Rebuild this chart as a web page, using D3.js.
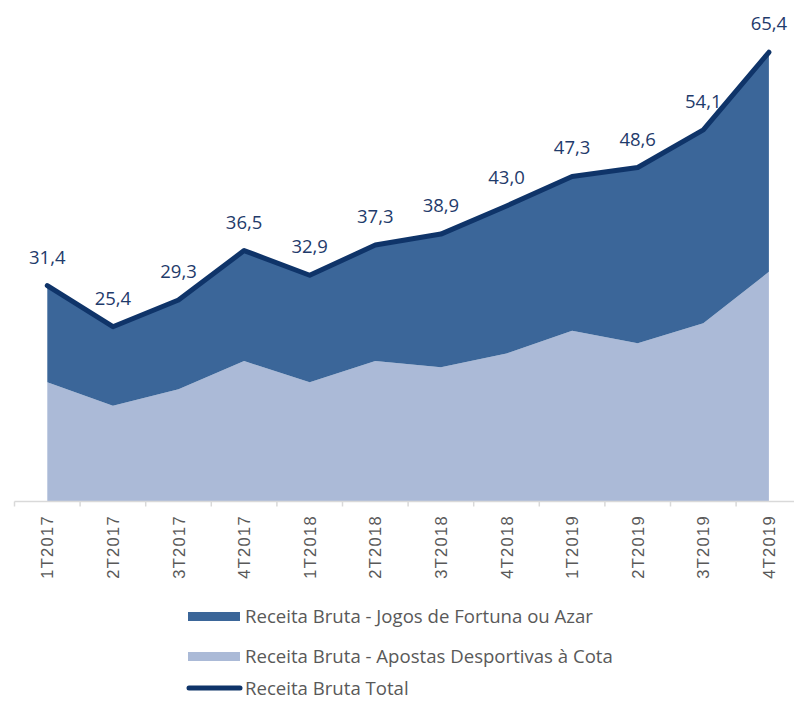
<!DOCTYPE html>
<html><head><meta charset="utf-8">
<script src="https://cdn.jsdelivr.net/npm/d3@7"></script>
<style>html,body{margin:0;padding:0;background:#fff;}svg{display:block;}</style>
</head><body>
<svg id="chart" width="794" height="701"></svg>
<script>
const categories = ["1T2017","2T2017","3T2017","4T2017","1T2018","2T2018","3T2018","4T2018","1T2019","2T2019","3T2019","4T2019"];
const apostas = [17.3, 13.9, 16.3, 20.4, 17.3, 20.4, 19.5, 21.5, 24.8, 23.0, 25.9, 33.4];
const jogos   = [14.1, 11.5, 13.0, 16.1, 15.6, 16.9, 19.4, 21.5, 22.5, 25.6, 28.2, 32.0];
const total   = [31.4, 25.4, 29.3, 36.5, 32.9, 37.3, 38.9, 43.0, 47.3, 48.6, 54.1, 65.4];
const seriesNames = ["Receita Bruta - Jogos de Fortuna ou Azar","Receita Bruta - Apostas Desportivas à Cota","Receita Bruta Total"];

const colors = {jogos:"#3b6699", apostas:"#abbad7", total:"#0f3469", text:"#1f3b6b", axisText:"#595959"};

const svg = d3.select("#chart");
const x = d3.scaleBand().domain(categories).range([14.5, 801.7]).padding(0);
const cx = c => x(c) + x.bandwidth()/2;
const y = d3.scaleLinear().domain([0, 70]).range([501, 20.7]);

const rows = categories.map((c,i)=>({cat:c, apostas:apostas[i], jogos:jogos[i], total:total[i]}));
const stack = d3.stack().keys(["apostas","jogos"]);
const stacked = stack(rows);

const area = d3.area().x(d=>cx(d.data.cat)).y0(d=>y(d[0])).y1(d=>y(d[1]));
svg.append("g").selectAll("path").data(stacked).join("path")
  .attr("d", area)
  .attr("fill", d=> d.key==="apostas" ? colors.apostas : colors.jogos);

// x axis
const axisY = 501.5;
svg.append("line").attr("x1",14.5).attr("x2",794).attr("y1",axisY).attr("y2",axisY)
  .attr("stroke","#d9d9d9").attr("stroke-width",1.5);
svg.append("g").selectAll("line").data(categories).join("line")
  .attr("x1",d=>x(d)).attr("x2",d=>x(d)).attr("y1",axisY).attr("y2",axisY+5)
  .attr("stroke","#d9d9d9").attr("stroke-width",1.5);
svg.append("g").selectAll("text").data(categories).join("text")
  .attr("transform",d=>`translate(${cx(d)+6},${515}) rotate(-90)`)
  .attr("text-anchor","end")
  .attr("font-family","'Liberation Sans', Arial, sans-serif")
  .attr("font-size",16.5).attr("letter-spacing","1.3px").attr("fill",colors.axisText)
  .text(d=>d);

// total line
const line = d3.line().x((d,i)=>cx(categories[i])).y(d=>y(d));
svg.append("path").datum(total).attr("d",line)
  .attr("fill","none").attr("stroke",colors.total).attr("stroke-width",5)
  .attr("stroke-linejoin","round").attr("stroke-linecap","round");

// labels
svg.append("g").selectAll("text").data(total).join("text")
  .attr("x",(d,i)=>cx(categories[i])).attr("y",d=>y(d)-22)
  .attr("text-anchor","middle")
  .attr("font-family","'Open Sans', 'Liberation Sans', sans-serif")
  .attr("font-size",18.5).attr("fill",colors.text)
  .text(d=>d.toFixed(1).replace(".",","));

// legend
const lg = svg.append("g").attr("font-family","'Open Sans', 'Liberation Sans', sans-serif")
  .attr("font-size",18.6).attr("fill",colors.axisText);
const legendY = [616.5, 656.5, 688];
lg.append("rect").attr("x",188).attr("y",legendY[0]-4.5).attr("width",52).attr("height",9).attr("fill",colors.jogos);
lg.append("rect").attr("x",188).attr("y",legendY[1]-4.5).attr("width",52).attr("height",9).attr("fill",colors.apostas);
lg.append("line").attr("x1",189).attr("x2",240).attr("y1",legendY[2]).attr("y2",legendY[2])
  .attr("stroke",colors.total).attr("stroke-width",5).attr("stroke-linecap","round");
seriesNames.forEach((n,i)=>{
  lg.append("text").attr("x",245).attr("y",legendY[i]).attr("dy","0.35em").text(n);
});
</script>
</body></html>
